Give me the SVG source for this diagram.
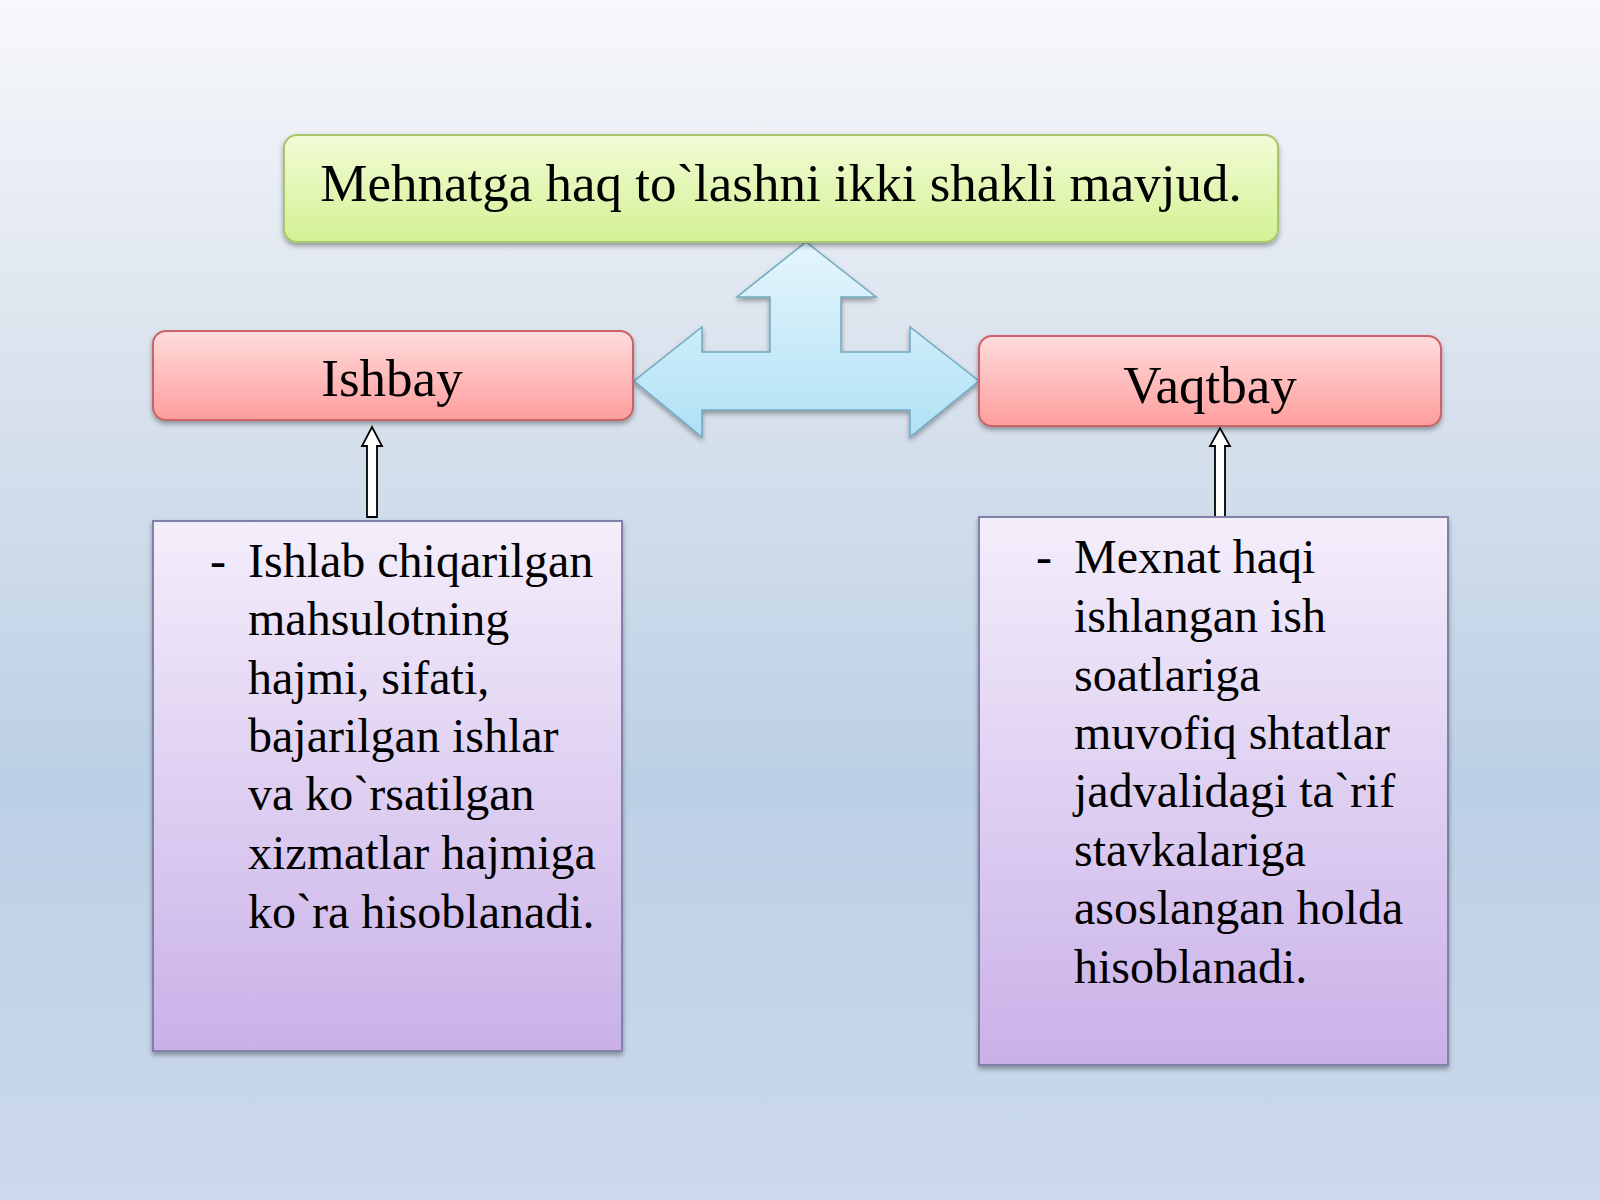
<svg xmlns="http://www.w3.org/2000/svg" width="1600" height="1200" viewBox="0 0 1600 1200">
<defs>
<linearGradient id="bg" x1="0" y1="0" x2="0" y2="1">
<stop offset="0" stop-color="#f7f8fb"/>
<stop offset="0.3" stop-color="#dbe3ee"/>
<stop offset="0.65" stop-color="#bcd0e5"/>
<stop offset="1" stop-color="#ccd8ec"/>
</linearGradient>
<linearGradient id="gGreen" x1="0" y1="0" x2="0" y2="1">
<stop offset="0" stop-color="#f2fcd6"/>
<stop offset="1" stop-color="#d3f193"/>
</linearGradient>
<linearGradient id="gPink" x1="0" y1="0" x2="0" y2="1">
<stop offset="0" stop-color="#ffdcdc"/>
<stop offset="1" stop-color="#ff9d9d"/>
</linearGradient>
<linearGradient id="gLav" x1="0" y1="0" x2="0" y2="1">
<stop offset="0" stop-color="#f4eefb"/>
<stop offset="1" stop-color="#c9b1e8"/>
</linearGradient>
<linearGradient id="gCyan" x1="0" y1="0" x2="0" y2="1">
<stop offset="0" stop-color="#e6f6fc"/>
<stop offset="1" stop-color="#afe1f5"/>
</linearGradient>
<filter id="sh" x="-5%" y="-5%" width="110%" height="120%">
<feDropShadow dx="0" dy="3" stdDeviation="2.5" flood-color="#000" flood-opacity="0.35"/>
</filter>
</defs>
<style>
.t{font-family:"Liberation Serif","Times New Roman",serif;fill:#000}
.big{font-size:53px}
.body{font-size:48px}
.green{fill:url(#gGreen);stroke:#a8c66a;stroke-width:2}
.pink{fill:url(#gPink);stroke:#c9646a;stroke-width:2}
.lav{fill:url(#gLav);stroke:#8080a8;stroke-width:2}
.small{fill:#ffffff;stroke:#000;stroke-width:1.8;stroke-linejoin:miter}
</style>
<rect x="0" y="0" width="1600" height="1200" fill="url(#bg)"/>

<g id="connectors">
<path id="tri-arrow" d="M806 242 L876 297 L841 297 L841 352 L910 352 L910 327 L979 381 L910 437 L910 410 L702 410 L702 437 L634 381 L702 327 L702 352 L770 352 L770 297 L737 297 Z" fill="url(#gCyan)" stroke="#6fa9c0" stroke-width="1.5" filter="url(#sh)"/>
<path id="arrow-left" class="small" d="M367 517 L367 446 L362 446 L372 427 L382 446 L377 446 L377 517 Z"/>
<path id="arrow-right" class="small" d="M1215 517 L1215 446 L1210 446 L1220 428 L1230 446 L1225 446 L1225 517 Z"/>
</g>

<g id="node-top">
<rect class="green" x="284" y="135" width="994" height="107" rx="13" filter="url(#sh)"/>
<text class="t big" x="781" y="201" text-anchor="middle">Mehnatga haq to`lashni ikki shakli mavjud.</text>
</g>

<g id="node-ishbay">
<rect class="pink" x="153" y="331" width="480" height="89" rx="13" filter="url(#sh)"/>
<text class="t big" x="392" y="396" text-anchor="middle">Ishbay</text>
</g>

<g id="node-vaqtbay">
<rect class="pink" x="979" y="336" width="462" height="90" rx="13" filter="url(#sh)"/>
<text class="t big" x="1210" y="403" text-anchor="middle">Vaqtbay</text>
</g>

<g id="node-ishbay-desc">
<rect class="lav" x="153" y="521" width="469" height="530" filter="url(#sh)"/>
<text class="t body" x="210" y="577">-</text>
<text class="t body">
<tspan x="248" y="577">Ishlab chiqarilgan</tspan>
<tspan x="248" y="635">mahsulotning</tspan>
<tspan x="248" y="694">hajmi, sifati,</tspan>
<tspan x="248" y="752">bajarilgan ishlar</tspan>
<tspan x="248" y="810">va ko`rsatilgan</tspan>
<tspan x="248" y="869">xizmatlar hajmiga</tspan>
<tspan x="248" y="928">ko`ra hisoblanadi.</tspan>
</text>
</g>

<g id="node-vaqtbay-desc">
<rect class="lav" x="979" y="517" width="469" height="548" filter="url(#sh)"/>
<text class="t body" x="1036" y="573">-</text>
<text class="t body">
<tspan x="1074" y="573">Mexnat haqi</tspan>
<tspan x="1074" y="632">ishlangan ish</tspan>
<tspan x="1074" y="691">soatlariga</tspan>
<tspan x="1074" y="749">muvofiq shtatlar</tspan>
<tspan x="1074" y="807">jadvalidagi ta`rif</tspan>
<tspan x="1074" y="866">stavkalariga</tspan>
<tspan x="1074" y="924">asoslangan holda</tspan>
<tspan x="1074" y="983">hisoblanadi.</tspan>
</text>
</g>
</svg>
